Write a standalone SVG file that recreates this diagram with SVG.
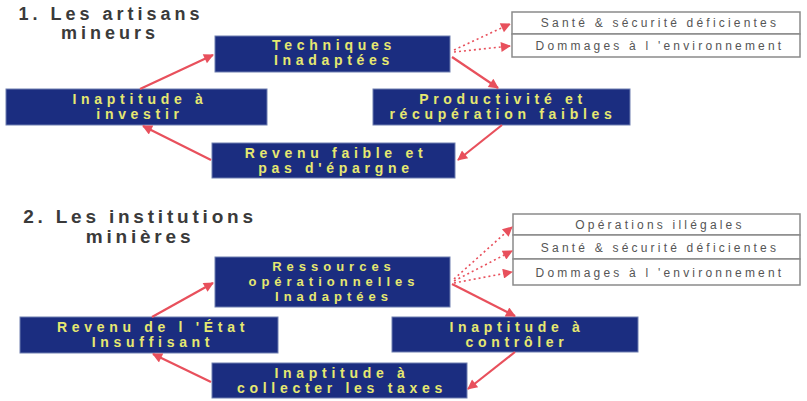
<svg xmlns="http://www.w3.org/2000/svg" width="807" height="401" viewBox="0 0 807 401">
<defs>
<style>
.node{fill:#1b2d80;stroke:#6f7fb0;stroke-width:1}
.nt{font-family:"Liberation Sans",Arial,sans-serif;font-weight:bold;font-size:14px;fill:#e6e870;text-anchor:middle;letter-spacing:4.7px}
.nt3{font-size:13px;letter-spacing:5px}
.title{font-family:"Liberation Sans",Arial,sans-serif;font-weight:bold;fill:#3a3a3a;text-anchor:middle}
.t1{font-size:18px;letter-spacing:4px}
.t2{font-size:19px;letter-spacing:3.8px}
.gbox{fill:#ffffff;stroke:#8a8a8a;stroke-width:1.5}
.gt{font-family:"Liberation Sans",Arial,sans-serif;font-size:12px;fill:#555;text-anchor:middle;letter-spacing:3.2px}
.arr{stroke:#e8505c;stroke-width:2.2;fill:none;marker-end:url(#ah)}
.dot{stroke:#e8505c;stroke-width:1.6;fill:none;stroke-dasharray:2 3;marker-end:url(#ah)}
</style>
<marker id="ah" viewBox="0 0 10 10" refX="9" refY="5" markerWidth="14" markerHeight="10" markerUnits="userSpaceOnUse" orient="auto">
<path d="M0,0 L10,5 L0,10 z" fill="#e8505c"/>
</marker>
</defs>
<rect width="807" height="401" fill="#ffffff"/>

<text class="title t1" x="111" y="20">1. Les artisans</text>
<text class="title t1" x="110" y="39">mineurs</text>
<text class="title t2" x="140" y="223">2. Les institutions</text>
<text class="title t2" x="140" y="243">minières</text>

<g id="n-techniques">
<rect class="node" x="215" y="36" width="235" height="36"/>
<text class="nt" x="334" y="50">Techniques</text>
<text class="nt" x="334" y="65">Inadaptées</text>
</g>
<g id="n-inaptitude-investir">
<rect class="node" x="6" y="89" width="261" height="36"/>
<text class="nt" x="140" y="104">Inaptitude à</text>
<text class="nt" x="140" y="119">investir</text>
</g>
<g id="n-productivite">
<rect class="node" x="373" y="89" width="257" height="36"/>
<text class="nt" x="503" y="104">Productivité et</text>
<text class="nt" x="503" y="119">récupération faibles</text>
</g>
<g id="n-revenu-faible">
<rect class="node" x="212" y="143" width="243" height="35"/>
<text class="nt" x="336" y="158">Revenu faible et</text>
<text class="nt" x="336" y="173">pas d'épargne</text>
</g>
<g id="n-sante1">
<rect class="gbox" x="512" y="12" width="288" height="22"/>
<text class="gt" x="660" y="27">Santé &amp; sécurité déficientes</text>
</g>
<g id="n-dommages1">
<rect class="gbox" x="512" y="34" width="288" height="23"/>
<text class="gt" x="660" y="50">Dommages à l 'environnement</text>
</g>

<g id="n-ressources">
<rect class="node" x="215" y="257" width="235" height="50"/>
<text class="nt nt3" x="334" y="271">Ressources</text>
<text class="nt nt3" x="334" y="286">opérationnelles</text>
<text class="nt nt3" x="334" y="301">Inadaptées</text>
</g>
<g id="n-revenu-etat">
<rect class="node" x="20" y="317" width="258" height="36"/>
<text class="nt" x="153" y="332">Revenu de l 'État</text>
<text class="nt" x="153" y="347">Insuffisant</text>
</g>
<g id="n-controler">
<rect class="node" x="392" y="317" width="246" height="35"/>
<text class="nt" x="517" y="332">Inaptitude à</text>
<text class="nt" x="517" y="347">contrôler</text>
</g>
<g id="n-collecter">
<rect class="node" x="212" y="363" width="255" height="35"/>
<text class="nt" x="342" y="378">Inaptitude à</text>
<text class="nt" x="342" y="393">collecter les taxes</text>
</g>
<g id="n-operations">
<rect class="gbox" x="513" y="214" width="287" height="21"/>
<text class="gt" x="660" y="229">Opérations illégales</text>
</g>
<g id="n-sante2">
<rect class="gbox" x="513" y="235" width="287" height="24"/>
<text class="gt" x="660" y="252">Santé &amp; sécurité déficientes</text>
</g>
<g id="n-dommages2">
<rect class="gbox" x="513" y="259" width="287" height="26"/>
<text class="gt" x="660" y="277">Dommages à l 'environnement</text>
</g>

<g id="connectors">
<line class="arr" x1="140" y1="89" x2="213" y2="55"/>
<line class="arr" x1="452" y1="57" x2="498" y2="88"/>
<line class="arr" x1="502" y1="125" x2="458" y2="160"/>
<line class="arr" x1="211" y1="160" x2="143" y2="126"/>
<line class="dot" x1="454" y1="50" x2="510" y2="24"/>
<line class="dot" x1="454" y1="52" x2="510" y2="46"/>

<line class="arr" x1="152" y1="317" x2="213" y2="283"/>
<line class="arr" x1="452" y1="284" x2="515" y2="316"/>
<line class="arr" x1="515" y1="352" x2="468" y2="389"/>
<line class="arr" x1="211" y1="382" x2="153" y2="354"/>
<line class="dot" x1="454" y1="279" x2="512" y2="227"/>
<line class="dot" x1="454" y1="281" x2="512" y2="251"/>
<line class="dot" x1="454" y1="283" x2="512" y2="272"/>
</g>
</svg>
